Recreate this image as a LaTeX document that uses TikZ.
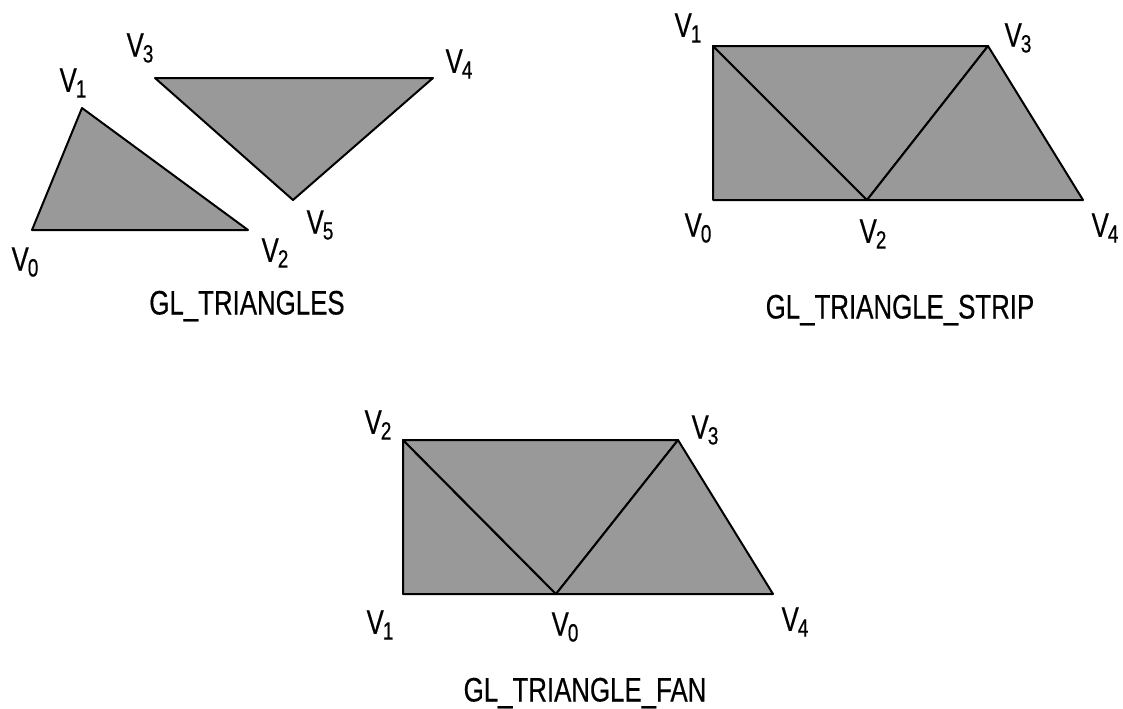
\documentclass[tikz,border=0pt]{standalone}
\usepackage{fontspec}
\setmainfont{Liberation Sans}[FakeStretch=0.76,FakeBold=0.4]
\usepackage{tikz}
\definecolor{polygray}{RGB}{153,153,153}
\newcommand\vlab[1]{V\kern-0.5pt\raisebox{-0.32ex}{\fontsize{12.5}{13}\selectfont #1}}

\begin{document}
\begin{tikzpicture}[x=0.5pt,y=-0.5pt,
  every node/.style={font=\fontsize{17}{20}\selectfont,inner sep=0pt},
  tri/.style={fill=polygray,draw=black,line width=1pt,line join=round}]
  \useasboundingbox (0,0) rectangle (1123,708);
  % GL_TRIANGLES
  \coordinate (t0) at (32,230);
  \coordinate (t1) at (82,108);
  \coordinate (t2) at (248,230);
  \coordinate (t3) at (155,78);
  \coordinate (t4) at (433,78);
  \coordinate (t5) at (293,200);
  \filldraw[tri] (t0) -- (t1) -- (t2) -- cycle;
  \filldraw[tri] (t3) -- (t4) -- (t5) -- cycle;
  \node (lt0) at (25,262) {\vlab{0}};
  \node (lt1) at (73,83) {\vlab{1}};
  \node (lt2) at (275,253) {\vlab{2}};
  \node (lt3) at (140,48) {\vlab{3}};
  \node (lt4) at (459,64) {\vlab{4}};
  \node (lt5) at (320,225) {\vlab{5}};
  \node (captri) at (247,306) {GL\_TRIANGLES};
  % GL_TRIANGLE_STRIP
  \coordinate (s0) at (713,200);
  \coordinate (s1) at (713,46);
  \coordinate (s2) at (867,200);
  \coordinate (s3) at (988,46);
  \coordinate (s4) at (1083,200);
  \filldraw[tri] (s0) -- (s1) -- (s2) -- cycle;
  \filldraw[tri] (s1) -- (s2) -- (s3) -- cycle;
  \filldraw[tri] (s2) -- (s3) -- (s4) -- cycle;
  \node (ls0) at (698,228) {\vlab{0}};
  \node (ls1) at (688,28) {\vlab{1}};
  \node (ls2) at (873,234) {\vlab{2}};
  \node (ls3) at (1018,38) {\vlab{3}};
  \node (ls4) at (1105,228) {\vlab{4}};
  \node (capstrip) at (900,310) {GL\_TRIANGLE\_STRIP};
  % GL_TRIANGLE_FAN
  \coordinate (f0) at (556,594);
  \coordinate (f1) at (403,594);
  \coordinate (f2) at (403,440);
  \coordinate (f3) at (678,440);
  \coordinate (f4) at (773,594);
  \filldraw[tri] (f0) -- (f1) -- (f2) -- cycle;
  \filldraw[tri] (f0) -- (f2) -- (f3) -- cycle;
  \filldraw[tri] (f0) -- (f3) -- (f4) -- cycle;
  \node (lf0) at (565,627) {\vlab{0}};
  \node (lf1) at (380,625) {\vlab{1}};
  \node (lf2) at (378,425) {\vlab{2}};
  \node (lf3) at (705,430) {\vlab{3}};
  \node (lf4) at (795,622) {\vlab{4}};
  \node (capfan) at (585,693) {GL\_TRIANGLE\_FAN};
\end{tikzpicture}
\end{document}
